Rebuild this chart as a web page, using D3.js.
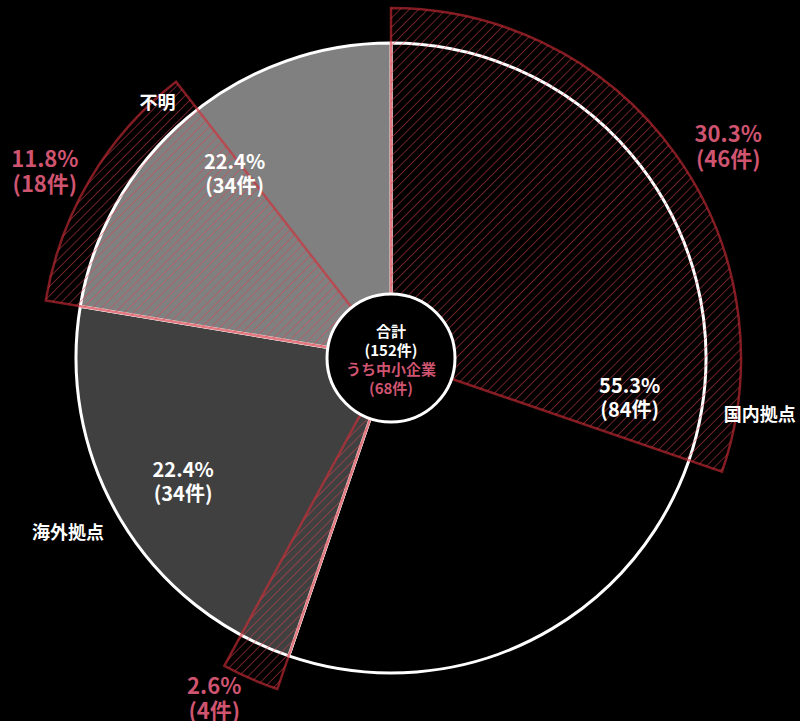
<!DOCTYPE html>
<html><head><meta charset="utf-8">
<script src="https://cdn.jsdelivr.net/npm/d3@7"></script>
<style>html,body{margin:0;padding:0;background:#000;}svg{display:block;}</style>
</head><body>
<svg id="chart" width="800" height="721"></svg>
<script>
const categories = ["国内拠点", "海外拠点", "不明"];
const totals = [84, 34, 34];
const smeCounts = [46, 4, 18];
const grandTotal = 152;
const smeTotal = 68;
const sliceColors = ["#000000", "#404040", "#808080"];

const W = 800, H = 721, cx = 391, cy = 358;
const R = 315, R2 = 350, rCenter = 64;
const svg = d3.select("#chart");
svg.append("rect").attr("width", W).attr("height", H).attr("fill", "#000");

const defs = svg.append("defs");
const pat = defs.append("pattern").attr("id", "hatch").attr("patternUnits", "userSpaceOnUse")
  .attr("width", 6.5).attr("height", 6.5).attr("patternTransform", "rotate(45)");
pat.append("line").attr("x1", 0).attr("y1", 0).attr("x2", 0).attr("y2", 6.5)
  .attr("stroke", "rgb(220,65,80)").attr("stroke-opacity", 0.7).attr("stroke-width", 1.4);

const g = svg.append("g").attr("transform", `translate(${cx},${cy})`);
const pie = d3.pie().sort(null).value(d => d);
const arcs = pie(totals);
const arc = d3.arc().innerRadius(0).outerRadius(R);

g.selectAll("path.base").data(arcs).join("path").attr("class", "base")
  .attr("d", arc).attr("fill", (d, i) => sliceColors[i])
  .attr("stroke", "#fff").attr("stroke-width", 3).attr("stroke-linejoin", "round");

const pct = v => (v / grandTotal * 100).toFixed(1) + "%";
const smeArcs = arcs.map((a, i) => ({
  startAngle: a.startAngle,
  endAngle: a.startAngle + smeCounts[i] / grandTotal * 2 * Math.PI,
  value: smeCounts[i]
}));
const arc2 = d3.arc().innerRadius(0).outerRadius(R2);
g.selectAll("path.sme").data(smeArcs).join("path").attr("class", "sme")
  .attr("d", arc2).attr("fill", "url(#hatch)")
  .attr("stroke", "rgb(210,45,55)").attr("stroke-opacity", 0.62).attr("stroke-width", 2.5);

g.append("circle").attr("r", rCenter).attr("fill", "#000").attr("stroke", "#fff").attr("stroke-width", 3);

const font = "'Noto Sans CJK JP','Noto Sans',sans-serif";
const red = "#cf5470";
const polar = (ang, r) => [Math.sin(ang) * r, -Math.cos(ang) * r];
const mid = a => (a.startAngle + a.endAngle) / 2;

function twoLine(x, y, l1, l2, color, size, gap) {
  const t = g.append("text").attr("text-anchor", "middle").attr("fill", color)
    .attr("font-family", font).attr("font-weight", "bold").attr("font-size", size);
  t.append("tspan").attr("x", x).attr("y", y - gap / 2 + size * 0.36).text(l1);
  t.append("tspan").attr("x", x).attr("y", y + gap / 2 + size * 0.36).text(l2);
}

// white value labels
arcs.forEach((a, i) => {
  const [x, y] = polar(mid(a), 242);
  twoLine(x, y, pct(totals[i]), `(${totals[i]}件)`, "#fff", 20, 24);
});
// red SME labels
const smeLabelAngleAdj = [0.06, 0.065, -0.044];
const smeLabelR = [398, 384, 393];
smeArcs.forEach((a, i) => {
  const [x, y] = polar(mid(a) + smeLabelAngleAdj[i], smeLabelR[i]);
  twoLine(x, y, pct(smeCounts[i]), `(${smeCounts[i]}件)`, red, 22, 25);
});
// category labels
const catR = [373, 367, 346];
const catAdj = [-0.014, 0.043, -0.038];
arcs.forEach((a, i) => {
  const [x, y] = polar(mid(a) + catAdj[i], catR[i]);
  g.append("text").attr("x", x).attr("y", y + 6.5).attr("text-anchor", "middle")
    .attr("fill", "#fff").attr("font-family", font).attr("font-weight", "bold")
    .attr("font-size", 18).text(categories[i]);
});

// center text
const centerLines = [["合計", "#fff"], [`(${grandTotal}件)`, "#fff"], ["うち中小企業", red], [`(${smeTotal}件)`, red]];
centerLines.forEach((l, i) => {
  g.append("text").attr("x", 0).attr("y", -26 + i * 19 + 5.3).attr("text-anchor", "middle")
    .attr("fill", l[1]).attr("font-family", font).attr("font-weight", "bold")
    .attr("font-size", 15).text(l[0]);
});
</script>
</body></html>
